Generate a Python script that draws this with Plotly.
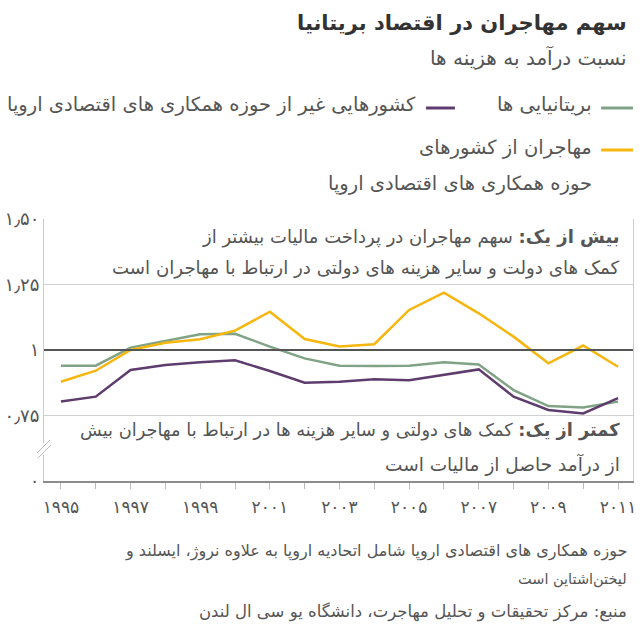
import plotly.graph_objects as go

years = list(range(1995, 2012))
british = [0.94, 0.94, 1.009, 1.035, 1.06, 1.062, 1.013, 0.968, 0.94, 0.939, 0.94, 0.953, 0.945, 0.847, 0.786, 0.781, 0.803]
non_eea = [0.803, 0.822, 0.924, 0.943, 0.953, 0.961, 0.92, 0.875, 0.879, 0.888, 0.885, 0.905, 0.926, 0.822, 0.771, 0.758, 0.816]
eea = [0.879, 0.921, 1.0, 1.028, 1.041, 1.074, 1.146, 1.042, 1.013, 1.022, 1.153, 1.219, 1.14, 1.051, 0.949, 1.017, 0.936]

series_names = ["بریتانیایی ها", "کشورهایی غیر از حوزه همکاری های اقتصادی اروپا",
                "مهاجران از کشورهای", "حوزه همکاری های اقتصادی اروپا"]
colors = ["#7fa384", "#5e3d6e", "#f6b60e"]

x_tick_vals = years
x_tick_text = ["۱۹۹۵", "", "۱۹۹۷", "", "۱۹۹۹", "", "۲۰۰۱", "", "۲۰۰۳", "", "۲۰۰۵", "", "۲۰۰۷", "", "۲۰۰۹", "", "۲۰۱۱"]
y_tick_vals = [0.5, 0.75, 1.0, 1.25, 1.5]
y_tick_text = ["۰", "۰٫۷۵", "۱", "۱٫۲۵", "۱٫۵۰"]

FONT = "DejaVu Sans, Noto Sans, sans-serif"
W, H = 640, 630
ML, MR, MT, MB = 44, 4, 219, 149
PW = W - ML - MR
PH = H - MT - MB

def px(xp):
    return (xp - ML) / PW

def py(yp):
    return (H - MB - yp) / PH

fig = go.Figure()
for vals, c in zip([british, eea, non_eea], [colors[0], colors[2], colors[1]]):
    fig.add_trace(go.Scatter(x=years, y=vals, mode="lines", line=dict(color=c, width=2.5),
                             showlegend=False, hoverinfo="skip"))

shapes = []
shapes.append(dict(type="line", xref="paper", yref="y", x0=0, x1=1, y0=1, y1=1,
                   line=dict(color="#555555", width=2)))
# axis break
shapes.append(dict(type="rect", xref="paper", yref="paper", x0=px(41), x1=px(47), y0=py(455), y1=py(443),
                   fillcolor="white", line=dict(width=0)))
shapes.append(dict(type="line", xref="paper", yref="paper", x0=px(37), x1=px(50), y0=py(453), y1=py(440),
                   line=dict(color="#bbbbbb", width=1)))
shapes.append(dict(type="line", xref="paper", yref="paper", x0=px(38), x1=px(51), y0=py(458), y1=py(445),
                   line=dict(color="#bbbbbb", width=1)))
# legend swatches
shapes.append(dict(type="line", xref="paper", yref="paper", x0=px(604), x1=px(636), y0=py(108), y1=py(108),
                   line=dict(color=colors[0], width=3)))
shapes.append(dict(type="line", xref="paper", yref="paper", x0=px(428), x1=px(457), y0=py(108), y1=py(108),
                   line=dict(color=colors[1], width=3)))
shapes.append(dict(type="line", xref="paper", yref="paper", x0=px(604), x1=px(636), y0=py(150), y1=py(150),
                   line=dict(color=colors[2], width=3)))

ann = []
def text(t, xr, yc, size=15, color="#555555"):
    ann.append(dict(text=t, xref="paper", yref="paper", x=px(xr), y=py(yc), xanchor="right",
                    yanchor="middle", showarrow=False, align="right",
                    font=dict(family=FONT, size=size, color=color)))

text("<b>سهم مهاجران در اقتصاد بریتانیا</b>", 632, 23, size=21, color="#333333")
text("نسبت درآمد به هزینه ها", 632, 58, size=20)
text(series_names[0], 597, 104, size=19.5)
text(series_names[1], 420, 104, size=19.5)
text(series_names[2], 597, 147, size=19.5)
text(series_names[3], 597, 183, size=19.5)

text("<b>بیش از یک:</b> سهم مهاجران در پرداخت مالیات بیشتر از", 625, 237, size=18)
text("کمک های دولت و سایر هزینه های دولتی در ارتباط با مهاجران است", 625, 268, size=18.2)
text("<b>کمتر از یک:</b> کمک های دولتی و سایر هزینه ها در ارتباط با مهاجران بیش", 625, 430, size=17.8)
text("از درآمد حاصل از مالیات است", 625, 464, size=18.5)

text("حوزه همکاری های اقتصادی اروپا شامل اتحادیه اروپا به علاوه نروژ، ایسلند و", 632, 551, size=16)
text("لیختن‌اشتاین است", 632, 579, size=14.5)
text("منبع: مرکز تحقیقات و تحلیل مهاجرت، دانشگاه یو سی ال لندن", 632, 612, size=16.5)

fig.update_layout(
    width=W, height=H,
    margin=dict(l=ML, r=MR, t=MT, b=MB),
    paper_bgcolor="white", plot_bgcolor="white",
    font=dict(family=FONT, color="#555555"),
    shapes=shapes, annotations=ann,
    xaxis=dict(range=[1994.514, 2011.43], tickmode="array", tickvals=x_tick_vals, ticktext=x_tick_text,
               ticks="outside", ticklen=6, tickcolor="#bbbbbb", tickwidth=1, ticklabelstandoff=4,
               showline=True, linecolor="#8c8c8c", linewidth=2, showgrid=False, zeroline=False,
               tickfont=dict(size=17, color="#555555", family=FONT), fixedrange=True),
    yaxis=dict(range=[0.5, 1.5], tickmode="array", tickvals=y_tick_vals, ticktext=y_tick_text,
               ticks="", showline=True, linecolor="#cccccc", linewidth=1, mirror=True,
               showgrid=True, gridcolor="#d0d0d0", gridwidth=1, zeroline=False,
               tickfont=dict(size=18, color="#555555", family=FONT), fixedrange=True),
)

fig.write_html("out.html", config={"displayModeBar": False},
               post_script="document.body.style.margin='0';")
